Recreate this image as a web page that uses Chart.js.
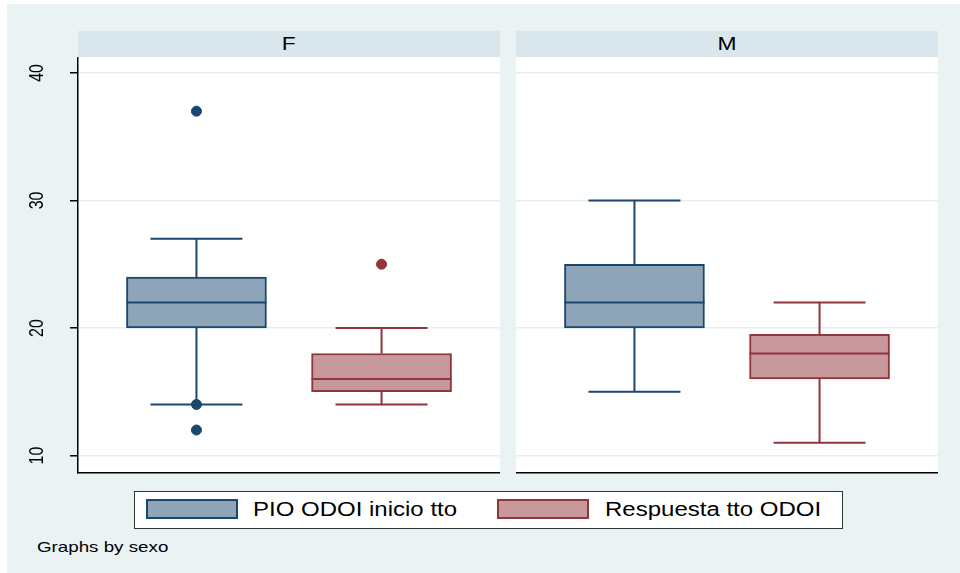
<!DOCTYPE html>
<html>
<head>
<meta charset="utf-8">
<script src="https://cdn.jsdelivr.net/npm/chart.js@4.4.0/dist/chart.umd.min.js"></script>
<style>
  body { margin: 0; background: #fff; font-family: "Liberation Sans", Arial, sans-serif; }
  #graph { position: absolute; left: 7px; top: 4px; width: 953px; height: 569px; background: #eaf2f3; }
  .strip { position: absolute; top: 31px; height: 26px; background: #d9e6eb; text-align: center;
           font-size: 19px; line-height: 26px; color: #000; }
  .strip span { display: inline-block; transform: scaleX(1.2); }
  canvas { position: absolute; }
  #legend { position: absolute; left: 134px; top: 491px; width: 707px; height: 36px; background: #fff;
            border: 1px solid #333; }
  .sw { position: absolute; top: 7px; width: 88px; height: 16px; border: 2px solid; }
  .lt { position: absolute; top: 5px; font-size: 20px; line-height: 24px; transform: scaleX(1.2); transform-origin: left; white-space: nowrap; }
  #note { position: absolute; left: 37px; top: 538px; font-size: 15px; transform: scaleX(1.25); transform-origin: left; }
</style>
</head>
<body>
<div id="graph"></div>
<div class="strip" id="stripF" style="left:78px;width:422px"><span></span></div>
<div class="strip" id="stripM" style="left:516px;width:422px"><span></span></div>
<canvas id="panelF" width="480" height="418" style="left:20px;top:57px"></canvas>
<canvas id="panelM" width="422" height="418" style="left:516px;top:57px"></canvas>
<div id="legend">
  <div class="sw" style="left:11px;background:#8ea5b9;border-color:#1a476f"></div>
  <div class="lt" id="lab0" style="left:118px"></div>
  <div class="sw" style="left:362px;background:#c8999c;border-color:#90353b"></div>
  <div class="lt" id="lab1" style="left:470px"></div>
</div>
<div id="note">Graphs by sexo</div>
<script>
// boxplot stats per series: [lower whisker, q1, median, q3, upper whisker]
var groups = ["F", "M"];
var series = ["PIO ODOI inicio tto", "Respuesta tto ODOI"];
var statsF = [[14, 20, 22, 24, 27], [14, 15, 16, 18, 20]];
var statsM = [[15, 20, 22, 25, 30], [11, 16, 18, 19.5, 22]];
var outF = [[37, 14, 12], [25]];
var outM = [[], []];
var yTicks = [10, 20, 30, 40];

var fills = ["#8ea5b9", "#c8999c"];
var lines = ["#1a476f", "#90353b"];

document.querySelector("#stripF span").textContent = groups[0];
document.querySelector("#stripM span").textContent = groups[1];
document.getElementById("lab0").textContent = series[0];
document.getElementById("lab1").textContent = series[1];

// white plot region, whiskers + caps under the marks, medians on top of the boxes
var boxPlugin = {
  id: "boxes",
  beforeDraw: function(chart) {
    var a = chart.chartArea, ctx = chart.ctx;
    ctx.save();
    ctx.fillStyle = "#fff";
    ctx.fillRect(a.left, a.top, a.right - a.left, a.bottom - a.top);
    ctx.restore();
  },
  beforeDatasetsDraw: function(chart) {
    var ctx = chart.ctx, xs = chart.scales.x, ys = chart.scales.y;
    var stats = chart.options.plugins.boxes.stats;
    ctx.save();
    ctx.lineWidth = 2;
    stats.forEach(function(s, i) {
      var x = xs.getPixelForValue(i + 1);
      var cap = 92 / 2;
      ctx.strokeStyle = lines[i];
      ctx.beginPath();
      ctx.moveTo(x, ys.getPixelForValue(s[3]));
      ctx.lineTo(x, ys.getPixelForValue(s[4]));
      ctx.moveTo(x, ys.getPixelForValue(s[1]));
      ctx.lineTo(x, ys.getPixelForValue(s[0]));
      ctx.moveTo(x - cap, ys.getPixelForValue(s[4]));
      ctx.lineTo(x + cap, ys.getPixelForValue(s[4]));
      ctx.moveTo(x - cap, ys.getPixelForValue(s[0]));
      ctx.lineTo(x + cap, ys.getPixelForValue(s[0]));
      ctx.stroke();
    });
    ctx.restore();
  },
  afterDatasetsDraw: function(chart) {
    var ctx = chart.ctx, xs = chart.scales.x, ys = chart.scales.y;
    var stats = chart.options.plugins.boxes.stats;
    ctx.save();
    ctx.lineWidth = 2;
    stats.forEach(function(s, i) {
      var x = xs.getPixelForValue(i + 1);
      var half = 140 / 2;
      ctx.strokeStyle = lines[i];
      ctx.beginPath();
      ctx.moveTo(x - half, ys.getPixelForValue(s[2]));
      ctx.lineTo(x + half, ys.getPixelForValue(s[2]));
      ctx.stroke();
    });
    // rotated y tick labels
    if (chart.options.plugins.boxes.labels) {
      ctx.fillStyle = "#000";
      ctx.font = "16px 'Liberation Sans', Arial, sans-serif";
      ctx.textAlign = "center";
      ctx.textBaseline = "middle";
      yTicks.forEach(function(t) {
        ctx.save();
        ctx.translate(chart.chartArea.left - 40, ys.getPixelForValue(t));
        ctx.scale(1.22, 1);
        ctx.rotate(-Math.PI / 2);
        ctx.fillText(String(t), 0, 0);
        ctx.restore();
      });
    }
    ctx.restore();
  }
};

function makePanel(id, stats, outs, withAxis) {
  var datasets = [];
  stats.forEach(function(s, i) {
    datasets.push({
      type: "bar",
      label: series[i],
      data: [{ x: i + 1, y: [s[1], s[3]] }],
      backgroundColor: fills[i],
      borderColor: lines[i],
      borderWidth: 2,
      borderSkipped: false,
      barThickness: 140,
      grouped: false
    });
    datasets.push({
      type: "scatter",
      data: outs[i].map(function(v) { return { x: i + 1, y: v }; }),
      backgroundColor: lines[i],
      borderColor: lines[i],
      pointRadius: 5,
      pointHoverRadius: 5
    });
  });
  return new Chart(document.getElementById(id), {
    type: "bar",
    data: { datasets: datasets },
    plugins: [boxPlugin],
    options: {
      responsive: false,
      animation: false,
      layout: { autoPadding: false, padding: { top: 0, bottom: 2, left: 0, right: 0 } },
      plugins: {
        legend: { display: false },
        tooltip: { enabled: false },
        boxes: { stats: stats, labels: withAxis }
      },
      scales: {
        x: {
          type: "linear", min: 0.36, max: 2.64, bounds: "data", offset: false,
          ticks: { display: false },
          grid: { display: false },
          border: { display: true, color: "#000", width: 1.5 },
          afterFit: function(s) { s.height = 0; }
        },
        y: {
          min: 8.63, max: 41.25, bounds: "data",
          afterBuildTicks: function(s) { s.ticks = yTicks.map(function(v) { return { value: v }; }); },
          ticks: { display: false },
          grid: { color: "#e6eef0", lineWidth: 1.5, tickColor: "#000", tickLength: withAxis ? 8 : 0, drawTicks: withAxis },
          border: { display: withAxis, color: "#000", width: 1.5 },
          afterFit: function(s) { s.width = withAxis ? 58 : 0; }
        }
      }
    }
  });
}

makePanel("panelF", statsF, outF, true);
makePanel("panelM", statsM, outM, false);
</script>
</body>
</html>
